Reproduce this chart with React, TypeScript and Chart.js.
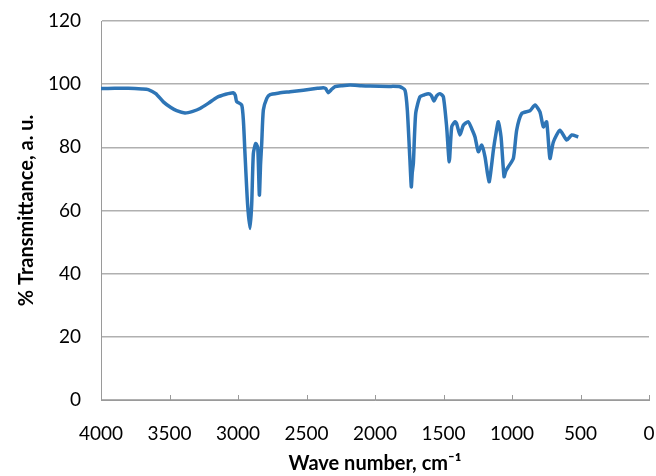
import React, { useEffect, useRef } from "react";
import { Chart, registerables } from "chart.js";

Chart.register(...registerables);

const waveNumbers = [
  4000, 3900, 3800, 3700, 3655, 3600, 3545, 3490, 3448, 3387, 3330, 3277, 3215, 3155, 3090, 3034,
  3020, 3010, 2973, 2960, 2949, 2930, 2912, 2900, 2888, 2871, 2856, 2844, 2835, 2827, 2815, 2790,
  2766, 2700, 2620, 2523, 2420, 2377, 2360, 2341, 2320, 2292, 2240, 2182, 2100, 2036, 1900, 1818,
  1781, 1764, 1745, 1735, 1728, 1720, 1703, 1672, 1640, 1611, 1590, 1569, 1550, 1526, 1501, 1477,
  1458, 1440, 1416, 1404, 1380, 1355, 1319, 1294, 1270, 1246, 1221, 1197, 1180, 1166, 1150, 1136,
  1117, 1100, 1080, 1058, 1045, 1027, 990, 966, 929, 869, 832, 796, 771, 747, 723, 698,
  650, 601, 564, 516,
];

const transmittance = [
  98.6, 98.7, 98.7, 98.5, 98.3, 97.0, 94.4, 92.6, 91.6, 90.9, 91.4, 92.3, 94.0, 95.8, 96.8, 97.3,
  96.5, 94.5, 93.4, 88.0, 78.0, 62.0, 54.3, 62.0, 78.0, 81.2, 80.0, 64.9, 75.0, 81.2, 91.8, 95.5,
  96.7, 97.2, 97.6, 98.1, 98.7, 98.9, 98.6, 97.3, 98.2, 99.2, 99.5, 99.7, 99.5, 99.4, 99.3, 99.2,
  98.1, 91.8, 75.9, 67.5, 72.0, 74.9, 90.7, 96.0, 96.6, 97.0, 96.5, 94.7, 96.3, 97.0, 96.0, 86.5,
  75.4, 86.5, 88.1, 87.5, 83.9, 87.0, 88.1, 85.9, 83.3, 78.6, 80.7, 77.0, 72.0, 69.1, 74.0, 79.1,
  84.4, 88.1, 83.3, 70.7, 72.5, 73.8, 76.5, 85.4, 90.7, 91.6, 93.4, 91.2, 86.5, 88.1, 76.5, 81.7,
  85.4, 82.3, 83.9, 83.3,
];

const xTicks = [0, 500, 1000, 1500, 2000, 2500, 3000, 3500, 4000];
const yTicks = [0, 20, 40, 60, 80, 100, 120];

const xTitle = "Wave number, cm\u207B\u00B9";
const yTitle = "% Transmittance, a. u.";

const innerTicks = {
  id: "innerTicks",
  afterDraw(chart: any) {
    const { ctx, chartArea } = chart;
    const xs = chart.scales.x;
    ctx.save();
    ctx.strokeStyle = "#9a9a9a";
    ctx.lineWidth = 1;
    for (const v of xTicks) {
      const px = Math.round(xs.getPixelForValue(v)) + 0.5;
      ctx.beginPath();
      ctx.moveTo(px, chartArea.bottom);
      ctx.lineTo(px, chartArea.bottom - 5);
      ctx.stroke();
    }
    ctx.restore();
  },
};

export default function App() {
  const ref = useRef<HTMLCanvasElement | null>(null);
  useEffect(() => {
    if (!ref.current) return;
    const points = waveNumbers.map((x, i) => ({ x, y: transmittance[i] }));
    const font = "Lato, 'Open Sans', sans-serif";
    const chart = new Chart(ref.current, {
      type: "line",
      data: {
        datasets: [
          {
            data: points,
            borderColor: "#2e75b6",
            borderWidth: 3.5,
            pointRadius: 0,
            tension: 0.2,
            fill: false,
          },
        ],
      },
      options: {
        animation: false,
        responsive: false,
        maintainAspectRatio: false,
        layout: { padding: { left: 0, right: 7, top: 21, bottom: 0 } },
        plugins: { legend: { display: false }, tooltip: { enabled: false } },
        scales: {
          x: {
            type: "linear",
            reverse: true,
            min: 0,
            max: 4000,
            afterBuildTicks: (s: any) => {
              s.ticks = xTicks.map((v) => ({ value: v }));
            },
            afterFit: (s: any) => {
              s.height = 76;
              s.paddingLeft = 0;
              s.paddingRight = 0;
            },
            grid: { display: false, drawTicks: false },
            border: { display: true, color: "#9a9a9a", width: 1 },
            ticks: {
              color: "#000",
              font: { family: font, size: 19 },
              padding: 22,
              maxRotation: 0,
              autoSkip: false,
              callback: (v: any) => String(v),
            },
            title: {
              display: true,
              text: xTitle,
              color: "#000",
              font: { family: font, size: 20, weight: "bold" },
              padding: { top: 6, bottom: 0 },
            },
          },
          y: {
            min: 0,
            max: 120,
            afterBuildTicks: (s: any) => {
              s.ticks = yTicks.map((v) => ({ value: v }));
            },
            afterFit: (s: any) => {
              s.width = 101;
              s.paddingTop = 0;
              s.paddingBottom = 0;
            },
            grid: { color: "#b0b0b0", lineWidth: 1.5, drawTicks: false },
            border: { display: true, color: "#9a9a9a", width: 1 },
            ticks: {
              color: "#000",
              font: { family: font, size: 19 },
              padding: 20,
              callback: (v: any) => String(v),
            },
            title: {
              display: true,
              text: yTitle,
              color: "#000",
              font: { family: font, size: 20, weight: "bold" },
              padding: { top: 15, bottom: 0 },
            },
          },
        },
      },
      plugins: [innerTicks],
    });
    return () => chart.destroy();
  }, []);
  return (
    <div style={{ position: "fixed", left: 0, top: 0, width: 656, height: 476, background: "#fff" }}>
      <canvas ref={ref} width={656} height={476} style={{ width: 656, height: 476 }} />
    </div>
  );
}
